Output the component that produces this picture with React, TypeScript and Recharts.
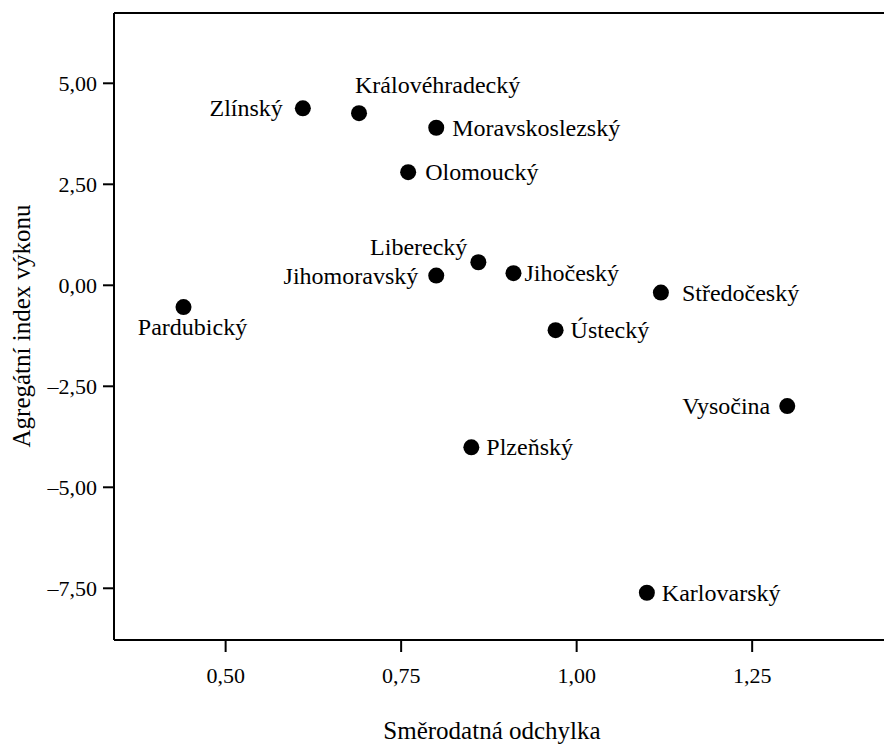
import React from 'react';
import { ScatterChart, Scatter, XAxis, YAxis, ReferenceLine, Label } from 'recharts';

const FONT = 'Liberation Serif, DejaVu Serif, serif';

// kraje, sd and aggregate index
const regions = [
    'Zlínský', 'Královéhradecký', 'Moravskoslezský', 'Olomoucký', 'Liberecký', 'Jihomoravský', 'Jihočeský',
    'Středočeský', 'Ústecký', 'Pardubický', 'Vysočina', 'Plzeňský', 'Karlovarský',
];
const stdDev = [0.61, 0.69, 0.80, 0.76, 0.86, 0.80, 0.91, 1.12, 0.97, 0.44, 1.30, 0.85, 1.10];
const indexValues = [4.38, 4.26, 3.90, 2.80, 0.57, 0.24, 0.30, -0.18, -1.11, -0.54, -2.99, -4.01, -7.61];

const xTicks = [0.5, 0.75, 1.0, 1.25];
const yTicks = [-7.5, -5, -2.5, 0, 2.5, 5];

const X_MIN = 0.341;
const X_MAX = 1.4506;
const Y_MIN = -8.78;
const Y_MAX = 6.74;

// where each label sits relative to its dot
type Placement = { anchor: 'start' | 'middle' | 'end'; dx: number; dy: number };
const labelPlacement: Record<string, Placement> = {
    'Zlínský': { anchor: 'end', dx: -20, dy: 8 },
    'Královéhradecký': { anchor: 'start', dx: -4, dy: -20 },
    'Moravskoslezský': { anchor: 'start', dx: 16, dy: 8 },
    'Olomoucký': { anchor: 'start', dx: 17, dy: 8 },
    'Liberecký': { anchor: 'end', dx: -11, dy: -7 },
    'Jihomoravský': { anchor: 'end', dx: -18, dy: 8 },
    'Jihočeský': { anchor: 'start', dx: 11, dy: 8 },
    'Středočeský': { anchor: 'start', dx: 21, dy: 8 },
    'Ústecký': { anchor: 'start', dx: 15, dy: 8 },
    'Pardubický': { anchor: 'middle', dx: 9, dy: 28 },
    'Vysočina': { anchor: 'end', dx: -17, dy: 8 },
    'Plzeňský': { anchor: 'start', dx: 15, dy: 8 },
    'Karlovarský': { anchor: 'start', dx: 15, dy: 8 },
};

const data = regions.map((name, i) => ({ name, x: stdDev[i], y: indexValues[i] }));

const fmt = (v: number) => (v < 0 ? '–' : '') + Math.abs(v).toFixed(2).replace('.', ',');

const Dot = (props: any) => {
    const { cx, cy, payload } = props;
    const p = labelPlacement[payload.name];
    return (
        <g>
            <circle cx={cx} cy={cy} r={8} fill="#000" />
            <text x={cx + p.dx} y={cy + p.dy} textAnchor={p.anchor} fontFamily={FONT} fontSize={24} fill="#000">
                {payload.name}
            </text>
        </g>
    );
};

const axisStyle = { stroke: '#000', strokeWidth: 2 };
const tickStyle = { fill: '#000', fontSize: 22, fontFamily: FONT };

export default function App() {
    return (
        <div style={{ position: 'absolute', left: 0, top: 0, width: 884, height: 744, overflow: 'hidden', background: '#fff' }}>
            <ScatterChart width={900} height={744} margin={{ top: 13, right: 7, left: 0, bottom: 0 }}>
                <XAxis
                    type="number"
                    dataKey="x"
                    domain={[X_MIN, X_MAX]}
                    ticks={xTicks}
                    interval={0}
                    allowDataOverflow
                    tickFormatter={fmt}
                    height={104}
                    tickSize={12}
                    tickMargin={15}
                    axisLine={axisStyle}
                    tickLine={axisStyle}
                    tick={tickStyle}
                >
                    <Label
                        content={() => (
                            <text x={492} y={739} textAnchor="middle" fontFamily={FONT} fontSize={25} fill="#000">
                                Směrodatná odchylka
                            </text>
                        )}
                    />
                </XAxis>
                <YAxis
                    type="number"
                    dataKey="y"
                    domain={[Y_MIN, Y_MAX]}
                    ticks={yTicks}
                    interval={0}
                    allowDataOverflow
                    tickFormatter={fmt}
                    width={114}
                    tickSize={11}
                    tickMargin={6}
                    axisLine={axisStyle}
                    tickLine={axisStyle}
                    tick={tickStyle}
                >
                    <Label
                        content={() => (
                            <text
                                x={30}
                                y={326}
                                transform="rotate(-90, 30, 326)"
                                textAnchor="middle"
                                fontFamily={FONT}
                                fontSize={25}
                                fill="#000"
                            >
                                Agregátní index výkonu
                            </text>
                        )}
                    />
                </YAxis>
                <ReferenceLine y={Y_MAX} stroke="#000" strokeWidth={2} />
                <Scatter data={data} shape={Dot} isAnimationActive={false} />
            </ScatterChart>
        </div>
    );
}
